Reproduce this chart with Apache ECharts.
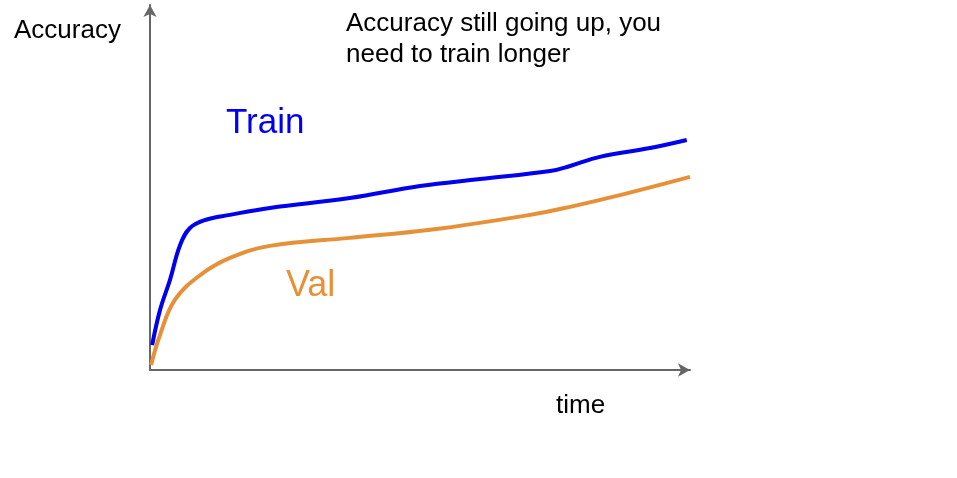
<!DOCTYPE html>
<html><head><meta charset="utf-8">
<script src="https://cdn.jsdelivr.net/npm/echarts@6/dist/echarts.min.js"></script>
<style>html,body{margin:0;padding:0;background:#fff}#c{width:957px;height:478px}</style>
</head><body><div id="c"></div>
<script>
const trainX = [0.4,1.85,3.7,5.56,7.4,10.2,14.8,22.2,37,50,61.1,74.1,77.8,83.3,92.6,99.4];
const trainY = [6.8,16.4,24.7,34.2,38.9,41.1,42.5,44.4,47.1,50.4,52.3,54.5,55.9,58.4,60.8,63.0];
const valX = [0.2,1.85,4.6,9.3,14.8,22.2,37,51.9,70.4,77.8,87,100];
const valY = [1.4,9.6,19.2,26,30.7,34,36.2,38.4,42.5,44.7,47.9,52.9];
const pair = (xs, ys) => xs.map((x, i) => [x, ys[i]]);
const chart = echarts.init(document.getElementById('c'));
const font = 'Liberation Sans, Arial, sans-serif';
chart.setOption({
  animation: false,
  grid: {left: 150, right: 267, top: 5, bottom: 108},
  xAxis: {type: 'value', min: 0, max: 100, splitLine: {show: false}, axisTick: {show: false}, axisLabel: {show: false},
    axisLine: {lineStyle: {color: '#666', width: 2}, symbol: ['none', 'arrow'], symbolSize: [10, 12]}},
  yAxis: {type: 'value', min: 0, max: 100, splitLine: {show: false}, axisTick: {show: false}, axisLabel: {show: false},
    axisLine: {lineStyle: {color: '#666', width: 2}, symbol: ['none', 'arrow'], symbolSize: [10, 12]}},
  series: [
    {type: 'line', data: pair(trainX, trainY), smooth: 0.4, showSymbol: false, lineStyle: {color: '#0000ee', width: 4}},
    {type: 'line', data: pair(valX, valY), smooth: 0.4, showSymbol: false, lineStyle: {color: '#e69138', width: 4}}
  ],
  graphic: [
    {type: 'text', left: 14, top: 18, style: {text: 'Accuracy', font: '26px ' + font, fill: '#000'}},
    {type: 'text', left: 346, top: 8, style: {text: 'Accuracy still going up, you\nneed to train longer', font: '26px ' + font, lineHeight: 31, fill: '#000'}},
    {type: 'text', left: 226, top: 106, style: {text: 'Train', font: '35px ' + font, fill: '#0000ee'}},
    {type: 'text', left: 286, top: 268, style: {text: 'Val', font: '36px ' + font, fill: '#e69138'}},
    {type: 'text', left: 556, top: 393, style: {text: 'time', font: '26px ' + font, fill: '#000'}}
  ]
});
</script></body></html>
